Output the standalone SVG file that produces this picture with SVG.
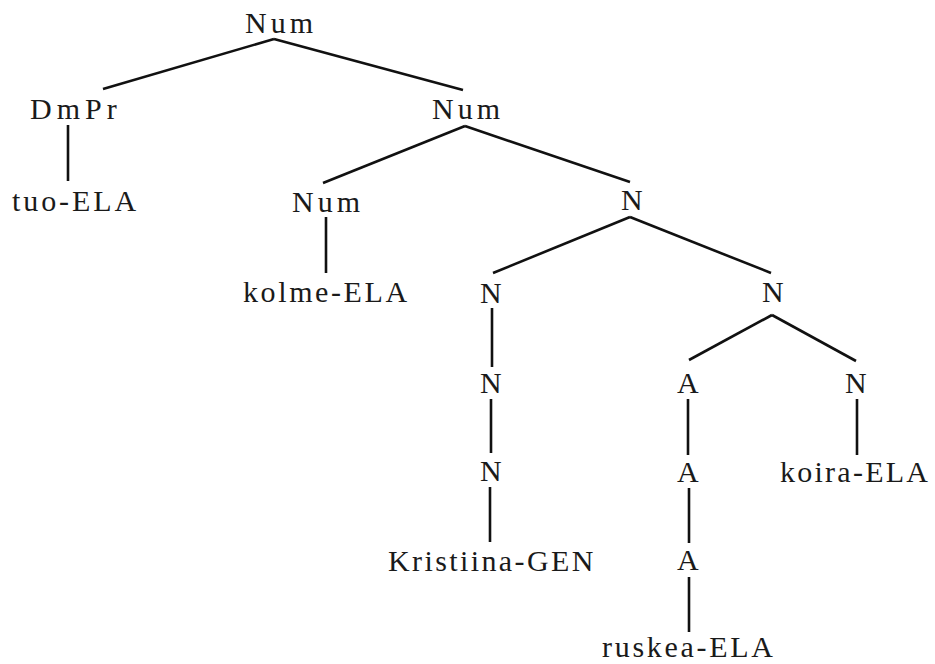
<svg xmlns="http://www.w3.org/2000/svg" width="935" height="664" viewBox="0 0 935 664">
<style>
.t text{font-family:'Liberation Serif','Times New Roman',serif;font-size:30px;fill:#1a1a1a;letter-spacing:2.5px}
.t .num{letter-spacing:4px}
.e line{stroke:#111;stroke-width:2.6;stroke-linecap:butt}
</style>
<rect width="935" height="664" fill="#fff"/>
<g class="e" id="edges">
<line x1="274" y1="39" x2="103" y2="89"/>
<line x1="274" y1="39" x2="463" y2="90"/>
<line x1="68" y1="125" x2="68" y2="181"/>
<line x1="465" y1="126" x2="323" y2="183"/>
<line x1="465" y1="126" x2="630" y2="182"/>
<line x1="326" y1="217" x2="326" y2="273"/>
<line x1="630" y1="217" x2="493" y2="273"/>
<line x1="630" y1="217" x2="771" y2="273"/>
<line x1="492" y1="308" x2="492" y2="367"/>
<line x1="491" y1="399" x2="491" y2="453"/>
<line x1="490" y1="487" x2="490" y2="542"/>
<line x1="772" y1="315" x2="689" y2="360"/>
<line x1="772" y1="315" x2="856" y2="361"/>
<line x1="688" y1="399" x2="688" y2="455"/>
<line x1="857" y1="399" x2="857" y2="455"/>
<line x1="689" y1="488" x2="689" y2="543"/>
<line x1="689" y1="577" x2="689" y2="632"/>
</g>
<g class="t">
<g id="n-num-root"><text class="num" x="245" y="33">Num</text></g>
<g id="n-dmpr"><text x="30" y="119" style="letter-spacing:5px">DmPr</text></g>
<g id="n-tuo"><text x="12" y="211" style="letter-spacing:2.9px">tuo-ELA</text></g>
<g id="n-num-mid"><text class="num" x="432" y="119">Num</text></g>
<g id="n-num-low"><text class="num" x="292" y="212">Num</text></g>
<g id="n-kolme"><text x="243" y="302" style="letter-spacing:2.6px">kolme-ELA</text></g>
<g id="n-n-top"><text x="621" y="210">N</text></g>
<g id="n-n-l1"><text x="480" y="303">N</text></g>
<g id="n-n-l2"><text x="480" y="393">N</text></g>
<g id="n-n-l3"><text x="480" y="481">N</text></g>
<g id="n-kristiina"><text x="388" y="571" style="letter-spacing:2.4px">Kristiina-GEN</text></g>
<g id="n-n-r"><text x="762" y="302">N</text></g>
<g id="n-a1"><text x="677" y="393">A</text></g>
<g id="n-a2"><text x="677" y="482">A</text></g>
<g id="n-a3"><text x="677" y="570">A</text></g>
<g id="n-ruskea"><text x="602" y="657" style="letter-spacing:2.7px">ruskea-ELA</text></g>
<g id="n-n-koira"><text x="845" y="393">N</text></g>
<g id="n-koira"><text x="780" y="482" style="letter-spacing:2.25px">koira-ELA</text></g>
</g>
</svg>
